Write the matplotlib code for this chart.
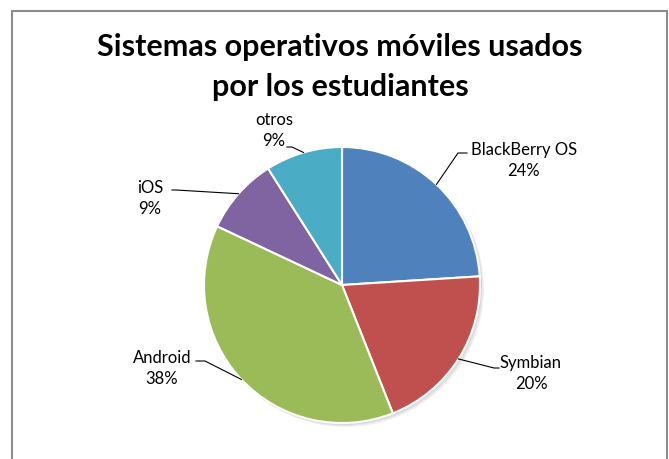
import matplotlib
matplotlib.use("Agg")
import matplotlib.pyplot as plt
from matplotlib.patches import Rectangle, Circle
import numpy as np

categories = ["BlackBerry OS", "Symbian", "Android", "iOS", "otros"]
values = [24, 20, 38, 9, 9]
colors = ["#4F81BD", "#C0504D", "#9BBB59", "#8064A2", "#4BACC6"]
title_lines = ["Sistemas operativos móviles usados", "por los estudiantes"]

W, H = 669, 459
fig = plt.figure(figsize=(W / 100, H / 100), dpi=100)
ax = fig.add_axes([0, 0, 1, 1])

FONT = "Lato"

cx, cy, R = 342, H - 285, 138

# soft shadow
for i, a in enumerate([0.05, 0.05, 0.05]):
    ax.add_patch(Circle((cx + 1.5 + i, cy - 1.5 - i), R + 0.5, color="black",
                        alpha=a, zorder=1, linewidth=0))

wedges, _ = ax.pie(values, colors=colors, startangle=90, counterclock=False,
                   center=(cx, cy), radius=R, frame=True,
                   wedgeprops=dict(edgecolor="white", linewidth=1.5, zorder=2))
ax.set_xlim(0, W)
ax.set_ylim(0, H)
ax.set_aspect("equal")
ax.axis("off")

# border
ax.add_patch(Rectangle((11.5, -20), 655.5, H - 10.5 + 20, fill=False,
                       edgecolor="#8c8c8c", linewidth=1.5))

ax.text(340, H - 47, title_lines[0], ha="center", va="center",
        fontsize=22, fontweight="bold", family=FONT, color="black")
ax.text(340, H - 87, title_lines[1], ha="center", va="center",
        fontsize=22, fontweight="bold", family=FONT, color="black")

# label positions (pixel coords, top-origin) and leader elbows
label_pos = [(524, 150), (531, 363), (162, 358), (150, 188), (274, 120)]
elbows = [[(458, 153), (467, 153)],
          [(494, 368), (499, 368)],
          [(205, 361), (196, 361)],
          [(176, 190), (172, 190)],
          [(292, 147), (287, 147)]]

for w, v, name, (lx, ly), el in zip(wedges, values, categories, label_pos, elbows):
    ang = np.deg2rad((w.theta1 + w.theta2) / 2)
    sx, sy = cx + R * np.cos(ang), cy + R * np.sin(ang)
    xs = [sx] + [p[0] for p in el]
    ys = [sy] + [H - p[1] for p in el]
    ax.plot(xs, ys, color="black", linewidth=0.8, zorder=3)
    ax.text(lx, H - ly, name, ha="center", va="center", fontsize=12,
            family=FONT, color="black")
    ax.text(lx, H - ly - 21, f"{v}%", ha="center", va="center", fontsize=12,
            family=FONT, color="black")

fig.savefig("out.png", dpi=100)
